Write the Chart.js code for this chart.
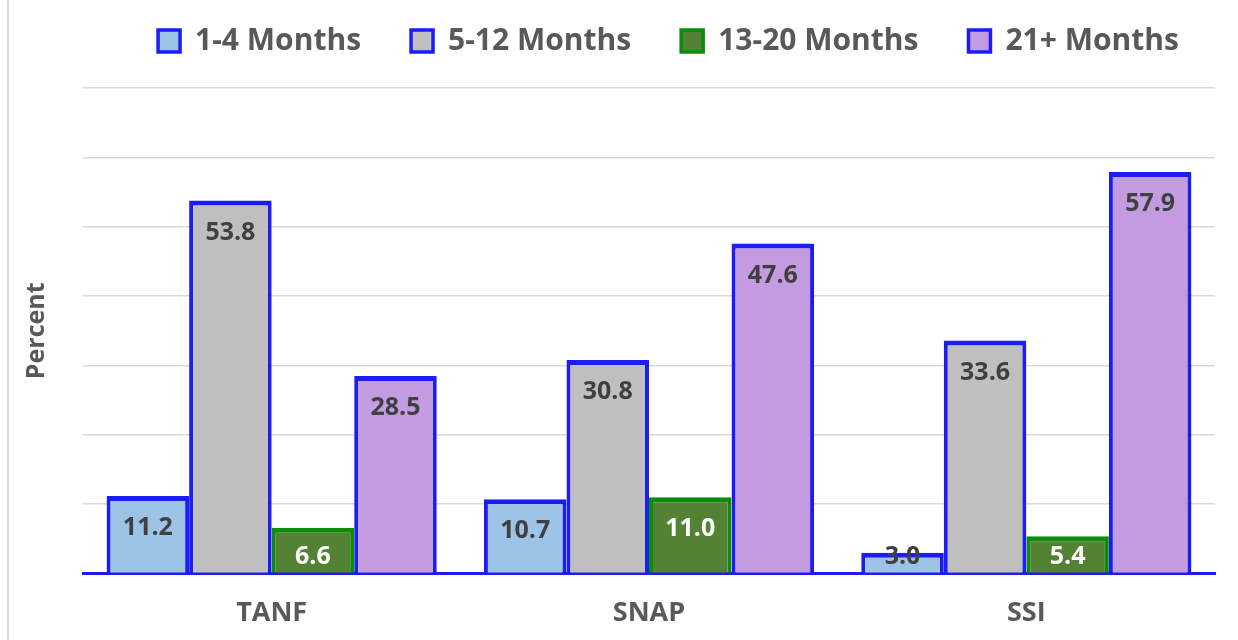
<!DOCTYPE html>
<html>
<head>
<meta charset="utf-8">
<script src="https://cdn.jsdelivr.net/npm/chart.js@4/dist/chart.umd.min.js"></script>
<style>
  html, body { margin: 0; padding: 0; background: #fff; }
  #wrap { position: relative; width: 1238px; height: 640px; }
  #edge { position: absolute; left: 7px; top: 0; bottom: 0; border-left: 2px solid #dcdcdc; }
</style>
</head>
<body>
<div id="wrap">
  <div id="edge"></div>
  <canvas id="chart" width="1238" height="640"></canvas>
</div>
<script>
const categories = ['TANF', 'SNAP', 'SSI'];
const months1to4 = [11.2, 10.7, 3.0];
const months5to12 = [53.8, 30.8, 33.6];
const months13to20 = [6.6, 11.0, 5.4];
const months21plus = [28.5, 47.6, 57.9];

const blue = '#1c1cf5';
const grey = '#595959';
const fontFamily = '"Open Sans", Lato, sans-serif';

// labels inside the top of each bar
const valueLabels = {
  id: 'valueLabels',
  afterDatasetsDraw(chart) {
    const ctx = chart.ctx;
    const base = chart.scales.y.getPixelForValue(0);
    ctx.save();
    ctx.font = 'bold 25px ' + fontFamily;
    ctx.textAlign = 'center';
    ctx.textBaseline = 'middle';
    chart.data.datasets.forEach((ds, i) => {
      const meta = chart.getDatasetMeta(i);
      meta.data.forEach((bar, j) => {
        const y = Math.min(bar.y + 32, base - 17);
        ctx.fillStyle = ds.labelColor;
        ctx.fillText(ds.data[j].toFixed(1), bar.x, y);
      });
    });
    ctx.restore();
  }
};

// move the legend: a bit right and up, like the original
const legendShift = {
  id: 'legendShift',
  afterLayout(chart) {
    const lg = chart.legend;
    lg.left += 50;
    lg.right += 50;
    lg.top -= 22;
    lg.bottom -= 22;
  }
};

const ctx = document.getElementById('chart').getContext('2d');
new Chart(ctx, {
  type: 'bar',
  data: {
    labels: categories,
    datasets: [
      { label: '1-4 Months', data: months1to4, backgroundColor: '#9dc3e6', borderColor: blue, labelColor: '#404040' },
      { label: '5-12 Months', data: months5to12, backgroundColor: '#bfbfbf', borderColor: blue, labelColor: '#404040' },
      { label: '13-20 Months', data: months13to20, backgroundColor: '#548235', borderColor: '#0b8c0b', labelColor: '#ffffff' },
      { label: '21+ Months', data: months21plus, backgroundColor: '#c39be0', borderColor: blue, labelColor: '#404040' }
    ]
  },
  options: {
    responsive: false,
    animation: false,
    layout: { padding: { left: 22, right: 23, top: -2, bottom: -6 } },
    datasets: {
      bar: {
        borderWidth: { top: 5, left: 4, right: 4, bottom: 0 },
        borderSkipped: false,
        categoryPercentage: 0.875,
        barPercentage: 1.0
      }
    },
    plugins: {
      legend: {
        position: 'top',
        labels: {
          color: grey,
          font: { family: fontFamily, size: 30, weight: 'bold' },
          boxWidth: 22,
          boxHeight: 22,
          padding: 50,
          generateLabels(chart) {
            const items = Chart.defaults.plugins.legend.labels.generateLabels(chart);
            items.forEach(it => { it.lineWidth = 3.5; });
            return items;
          }
        }
      },
      tooltip: { enabled: false }
    },
    scales: {
      x: {
        grid: { display: false },
        border: { color: blue, width: 3 },
        ticks: { color: grey, font: { family: fontFamily, size: 27, weight: 'bold' }, padding: 16 }
      },
      y: {
        min: 0,
        max: 70,
        ticks: { stepSize: 10, display: false },
        grid: { color: '#d9d9d9', lineWidth: 1.5, drawTicks: false },
        border: { display: false },
        title: {
          display: true,
          text: 'Percent',
          color: grey,
          font: { family: fontFamily, size: 25, weight: 'bold' },
          padding: { top: 0, bottom: 31 }
        }
      }
    }
  },
  plugins: [valueLabels, legendShift]
});
</script>
</body>
</html>
